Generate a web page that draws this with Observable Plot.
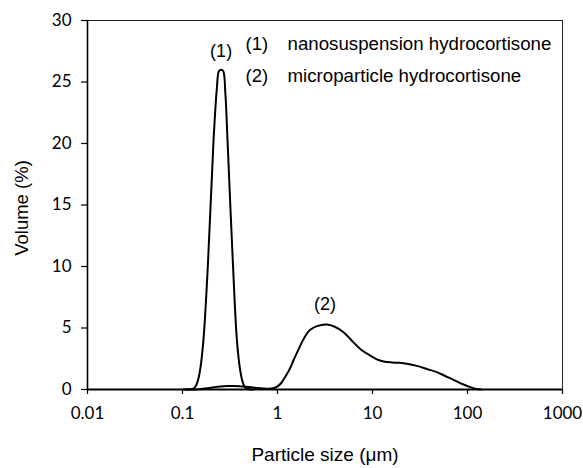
<!DOCTYPE html>
<html><head><meta charset="utf-8">
<script src="https://cdn.jsdelivr.net/npm/d3@7"></script>
<script src="https://cdn.jsdelivr.net/npm/@observablehq/plot@0.6"></script>
<style>body{margin:0;background:#fff}</style>
</head><body><div id="chart"></div>
<script>
// (1) nanosuspension hydrocortisone
const nanoSize   = [0.11, 0.12, 0.13, 0.136, 0.145, 0.153, 0.166, 0.185, 0.212, 0.23, 0.242, 0.255, 0.268, 0.283, 0.298, 0.34, 0.374, 0.405, 0.43, 0.457, 0.5, 0.55];
const nanoVolume = [0,    0.01, 0.06, 0.2,   0.7,   1.55,  4.0,   10.1,  20.2,  24.5, 25.9,  26.0,  25.9,  24.0,  20.2,  10.1, 4.0,   1.55,  0.6,  0.15,  0.02, 0];
// (2) microparticle hydrocortisone
const microSize   = [0.1, 0.15, 0.2, 0.25, 0.3, 0.35, 0.4, 0.5, 0.6, 0.7, 0.8, 0.9, 1.0, 1.1, 1.2, 1.35, 1.47, 1.65, 1.81, 2.0, 2.21, 2.6, 3.31, 4.0, 4.96, 6.0, 7.43, 9.46, 11.1, 13.1, 16, 19, 23, 30, 38, 47.6, 58, 71.3, 88, 107, 125, 140];
const microVolume = [0,   0.03, 0.15, 0.24, 0.28, 0.29, 0.27, 0.2, 0.13, 0.08, 0.06, 0.1, 0.25, 0.55, 1.0, 1.7, 2.36, 3.2, 3.85, 4.45, 4.85, 5.15, 5.28, 5.1, 4.66, 4.0, 3.3, 2.76, 2.45, 2.28, 2.2, 2.17, 2.1, 1.9, 1.65, 1.41, 1.1, 0.79, 0.45, 0.19, 0.04, 0];

const xTicks = [0.01, 0.1, 1, 10, 100, 1000];
const xTickLabels = ["0.01", "0.1", "1", "10", "100", "1000"];
const yTicks = [0, 5, 10, 15, 20, 25, 30];
const seriesLabels = ["(1)", "(2)"];
const seriesNames = ["nanosuspension hydrocortisone", "microparticle hydrocortisone"];
const xTitle = "Particle size (\u03bcm)";
const yTitle = "Volume (%)";

const nano = nanoSize.map((s, i) => ({size: s, volume: nanoVolume[i]}));
const micro = microSize.map((s, i) => ({size: s, volume: microVolume[i]}));
const peak = arr => arr.reduce((a, b) => (b.volume > a.volume ? b : a));
const peaks = [{...peak(nano), label: seriesLabels[0], dx: 0, dy: -18}, {...peak(micro), label: seriesLabels[1], dx: -2, dy: -20}];

const tickFont = "Lato, 'Liberation Sans', sans-serif";
const textFont = "'Liberation Sans', Arial, sans-serif";

const chart = Plot.plot({
  width: 583,
  height: 468,
  marginLeft: 87,
  marginRight: 21,
  marginTop: 20,
  marginBottom: 79,
  style: {fontFamily: textFont, fontSize: "17px", color: "#000", background: "#fff"},
  x: {type: "log", domain: [0.01, 1000]},
  y: {domain: [0, 30]},
  marks: [
    Plot.frame({stroke: "#222", strokeWidth: 1}),
    Plot.axisX({ticks: xTicks, tickFormat: d => xTickLabels[xTicks.indexOf(d)], tickSize: 5, tickPadding: 12, label: null, fontFamily: tickFont, fontSize: 17, stroke: "#000", strokeWidth: 1.2}),
    Plot.axisY({ticks: yTicks, tickSize: 6, tickPadding: 10, label: null, fontFamily: tickFont, fontSize: 17, stroke: "#000", strokeWidth: 1.2}),
    Plot.ruleY([0], {stroke: "#000", strokeWidth: 2}),
    Plot.ruleX([0.01], {stroke: "#000", strokeWidth: 1.6}),
    Plot.line(nano, {x: "size", y: "volume", curve: "catmull-rom", stroke: "#000", strokeWidth: 2}),
    Plot.line(micro, {x: "size", y: "volume", curve: "catmull-rom", stroke: "#000", strokeWidth: 2}),
    Plot.text([peaks[0]], {x: "size", y: "volume", text: "label", dy: peaks[0].dy, dx: peaks[0].dx, fontSize: 18, fill: "#000"}),
    Plot.text([peaks[1]], {x: "size", y: "volume", text: "label", dy: peaks[1].dy, dx: peaks[1].dx, fontSize: 18, fill: "#000"}),
    ...seriesLabels.map((lab, i) => Plot.text([lab], {frameAnchor: "top-left", text: d => d, dx: 158, dy: 16 + i * 32, textAnchor: "start", fontSize: 18.5, fill: "#000"})),
    ...seriesNames.map((nm, i) => Plot.text([nm], {frameAnchor: "top-left", text: d => d, dx: 200, dy: 16 + i * 32, textAnchor: "start", fontSize: 18.7, fill: "#000"})),
    Plot.text([yTitle], {frameAnchor: "left", text: d => d, rotate: -90, dx: -65, dy: 3, textAnchor: "middle", fontSize: 18.5, fill: "#000"}),
    Plot.text([xTitle], {frameAnchor: "bottom", text: d => d, dy: 71, textAnchor: "middle", fontSize: 19, fill: "#000"})
  ]
});
document.getElementById("chart").appendChild(chart);
</script>
</body></html>
